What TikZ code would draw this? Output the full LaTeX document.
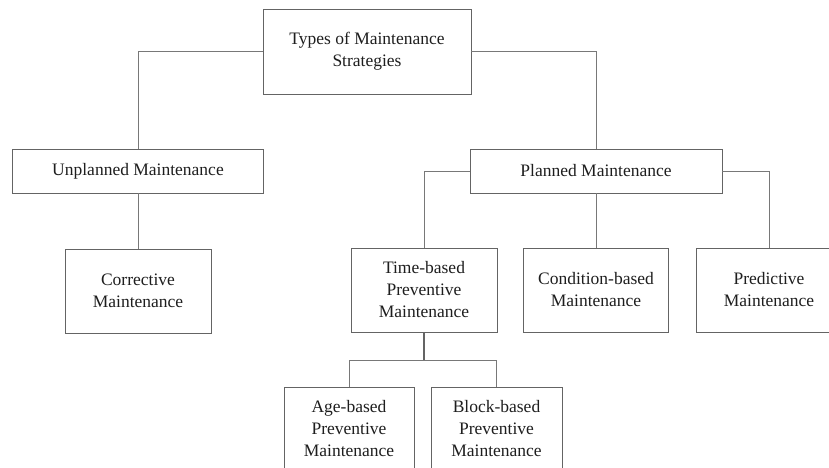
\documentclass[tikz,border=0pt]{standalone}
\usepackage{fontspec}
\setmainfont{Liberation Serif}
\definecolor{boxc}{RGB}{100,100,100}
\definecolor{linec}{RGB}{120,120,120}
\definecolor{txt}{RGB}{30,30,30}
\begin{document}
\begin{tikzpicture}[x=1pt,y=-1pt,
  box/.style={draw=boxc,line width=0.9pt,fill=white,inner sep=0pt,align=center,
    text=txt,font=\fontsize{17.5}{22}\selectfont},
  conn/.style={draw=linec,line width=0.9pt}]
\useasboundingbox (0,0) rectangle (829,467);
\clip (0,0) rectangle (829,467);
\fill[white] (0,0) rectangle (829,467);
\node[box,minimum width=208pt,minimum height=85pt] (root) at (367,51.5) {Types of Maintenance\\Strategies};
\node[box,minimum width=251pt,minimum height=44pt] (unpl) at (138,171) {Unplanned Maintenance};
\node[box,minimum width=252pt,minimum height=44pt] (plan) at (596,171) {Planned Maintenance};
\node[box,minimum width=146pt,minimum height=84pt] (corr) at (138,291) {Corrective\\Maintenance};
\node[box,minimum width=146pt,minimum height=84pt] (time) at (424,290) {Time-based\\Preventive\\Maintenance};
\node[box,minimum width=145pt,minimum height=84pt] (cond) at (596,290) {Condition-based\\Maintenance};
\node[box,minimum width=146pt,minimum height=84pt] (pred) at (769,290) {Predictive\\Maintenance};
\node[box,minimum width=130pt,minimum height=84pt] (age) at (349,429) {Age-based\\Preventive\\Maintenance};
\node[box,minimum width=131pt,minimum height=84pt] (block) at (496.5,429) {Block-based\\Preventive\\Maintenance};
\coordinate (tj) at (424,360);
\draw[conn] (root.west) -| (unpl.north);
\draw[conn] (root.east) -| (plan.north);
\draw[conn] (unpl.south) -- (corr.north);
\draw[conn] (plan.west) -| (time.north);
\draw[conn] (plan.east) -| (pred.north);
\draw[conn] (plan.south) -- (cond.north);
\draw[draw=boxc,line width=1.2pt] (time.south) -- (tj);
\draw[conn] (tj) -| (age.north);
\draw[conn] (tj) -| (block.north);
\end{tikzpicture}
\end{document}
